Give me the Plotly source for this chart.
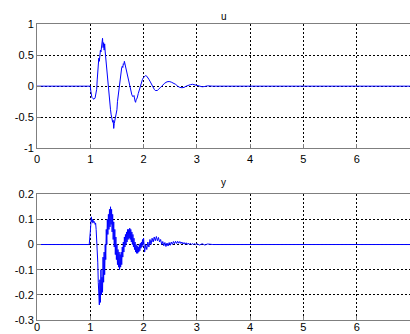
import plotly.graph_objects as go

# ---- data ----
t_u = [0.0, 0.99, 1.00, 1.01, 1.02, 1.03, 1.05, 1.07, 1.09, 1.10, 1.12, 1.13, 1.14, 1.15, 1.16, 1.17,
       1.18, 1.19, 1.20, 1.21, 1.22, 1.23, 1.24, 1.25, 1.26, 1.27, 1.28, 1.29, 1.30, 1.31, 1.32, 1.33,
       1.34, 1.35, 1.36, 1.37, 1.38, 1.39, 1.40, 1.41, 1.42, 1.43, 1.44, 1.45, 1.46, 1.47, 1.48, 1.49,
       1.50, 1.51, 1.52, 1.53, 1.54, 1.55, 1.56, 1.57, 1.58, 1.59, 1.60, 1.61, 1.62, 1.63, 1.64, 1.65,
       1.66, 1.67, 1.68, 1.70, 1.72, 1.74, 1.76, 1.78, 1.80, 1.82, 1.84, 1.85, 1.86, 1.88, 1.90, 1.92,
       1.94, 1.96, 1.98, 2.00, 2.02, 2.04, 2.06, 2.08, 2.10, 2.12, 2.14, 2.16, 2.18, 2.20, 2.22, 2.24,
       2.26, 2.28, 2.30, 2.32, 2.34, 2.36, 2.40, 2.44, 2.48, 2.52, 2.56, 2.60, 2.64, 2.68, 2.72, 2.76,
       2.80, 2.84, 2.88, 2.92, 2.96, 3.00, 3.05, 3.10, 3.15, 3.20, 3.30, 7.0]
u_vals = [0.0, 0.0, 0.0, -0.08, -0.15, -0.18, -0.20, -0.21, -0.19, -0.15, -0.05, 0.10, 0.25, 0.33, 0.45, 0.40,
          0.52, 0.58, 0.55, 0.68, 0.72, 0.77, 0.62, 0.70, 0.58, 0.68, 0.55, 0.45, 0.42, 0.30, 0.22, 0.05,
          -0.10, -0.18, -0.25, -0.33, -0.38, -0.45, -0.52, -0.50, -0.58, -0.55, -0.68, -0.60, -0.56, -0.50, -0.48, -0.40,
          -0.38, -0.25, -0.18, -0.10, 0.0, 0.08, 0.15, 0.20, 0.28, 0.30, 0.32, 0.30, 0.36, 0.35, 0.40, 0.36,
          0.34, 0.30, 0.25, 0.15, 0.08, -0.02, -0.08, -0.14, -0.17, -0.15, -0.24, -0.26, -0.22, -0.19, -0.12, -0.05,
          0.02, 0.08, 0.11, 0.14, 0.16, 0.17, 0.16, 0.14, 0.11, 0.08, 0.04, 0.01, -0.03, -0.05, -0.07, -0.07,
          -0.07, -0.05, -0.04, -0.02, 0.0, 0.02, 0.05, 0.07, 0.075, 0.065, 0.05, 0.03, 0.0, -0.02, -0.025, -0.02,
          0.0, 0.015, 0.025, 0.03, 0.02, 0.01, 0.0, -0.01, -0.005, 0.005, 0.0, 0.0]

t_y = [0.0, 0.98, 1.00, 1.01, 1.02, 1.03, 1.04, 1.05, 1.06, 1.07, 1.08, 1.09, 1.10, 1.11, 1.12, 1.13,
       1.14, 1.15, 1.16, 1.17, 1.18, 1.19, 1.20, 1.21, 1.22, 1.23, 1.24, 1.25, 1.26, 1.27, 1.28, 1.29,
       1.30, 1.31, 1.32, 1.33, 1.34, 1.35, 1.36, 1.37, 1.38, 1.39, 1.40, 1.41, 1.42, 1.43, 1.44, 1.45,
       1.46, 1.47, 1.48, 1.49, 1.50, 1.51, 1.52, 1.53, 1.54, 1.55, 1.56, 1.57, 1.58, 1.59, 1.60, 1.61,
       1.62, 1.63, 1.64, 1.65, 1.66, 1.67, 1.68, 1.69, 1.70, 1.71, 1.72, 1.73, 1.74, 1.75, 1.76, 1.77,
       1.78, 1.79, 1.80, 1.81, 1.82, 1.83, 1.84, 1.85, 1.86, 1.87, 1.88, 1.89, 1.90, 1.91, 1.92, 1.93,
       1.94, 1.95, 1.96, 1.97, 1.98, 1.99, 2.00, 2.02, 2.04, 2.06, 2.08, 2.10, 2.12, 2.14, 2.16, 2.18,
       2.20, 2.22, 2.24, 2.26, 2.28, 2.30, 2.32, 2.34, 2.36, 2.38, 2.40, 2.42, 2.44, 2.46, 2.48, 2.50,
       2.52, 2.54, 2.56, 2.58, 2.60, 2.62, 2.64, 2.66, 2.68, 2.70, 2.72, 2.74, 2.76, 2.78, 2.80, 2.82,
       2.84, 2.86, 2.88, 2.90, 2.92, 2.94, 2.96, 2.98, 3.00, 3.05, 3.10, 3.15, 3.20, 3.30, 7.0]
y_vals = [0.0, 0.0, 0.05, 0.10, 0.11, 0.09, 0.10, 0.085, 0.095, 0.09, 0.09, 0.08, 0.085, 0.06, 0.03, -0.02,
          -0.07, -0.15, -0.21, -0.24, -0.14, -0.23, -0.10, -0.20, -0.13, -0.19, -0.05, -0.15, -0.03, -0.12, 0.00, -0.06,
          0.06, 0.00, 0.10, 0.04, 0.12, 0.06, 0.14, 0.07, 0.15, 0.08, 0.14, 0.05, 0.12, 0.02, 0.09, -0.01,
          0.06, -0.04, 0.03, -0.06, 0.00, -0.08, -0.02, -0.09, -0.03, -0.10, -0.04, -0.09, -0.03, -0.08, -0.01, -0.05,
          0.01, -0.03, 0.03, -0.01, 0.04, 0.00, 0.05, 0.01, 0.06, 0.02, 0.06, 0.025, 0.065, 0.02, 0.06, 0.01,
          0.05, 0.00, 0.04, -0.01, 0.025, -0.02, 0.01, -0.03, 0.0, -0.035, -0.005, -0.035, -0.01, -0.03, 0.0, -0.025,
          0.005, -0.015, 0.01, -0.01, 0.02, 0.0, 0.025, -0.03, 0.0, -0.02, 0.01, -0.01, 0.02, 0.0, 0.025, 0.01,
          0.03, 0.015, 0.032, 0.015, 0.028, 0.01, 0.02, 0.0, 0.012, -0.005, 0.008, -0.008, 0.006, -0.006, 0.008, -0.003,
          0.01, 0.0, 0.012, 0.003, 0.013, 0.004, 0.013, 0.005, 0.012, 0.004, 0.01, 0.002, 0.008, 0.001, 0.007, 0.0,
          0.006, 0.0, 0.005, -0.001, 0.004, -0.001, 0.004, -0.001, 0.003, -0.002, 0.003, -0.002, 0.002, 0.0, 0.0]

x_ticks = [0, 1, 2, 3, 4, 5, 6, 7]
u_ticks = [-1, -0.5, 0, 0.5, 1]
u_tick_text = ["-1", "-0.5", "0", "0.5", "1"]
y_ticks = [-0.3, -0.2, -0.1, 0, 0.1, 0.2]
y_tick_text = ["-0.3", "-0.2", "-0.1", "0", "0.1", "0.2"]

FONT = "Liberation Sans, Arial, sans-serif"

fig = go.Figure()
fig.add_trace(go.Scatter(x=t_u, y=u_vals, mode="lines", line=dict(color="#0000ff", width=1),
                         xaxis="x", yaxis="y", showlegend=False))
fig.add_trace(go.Scatter(x=t_y, y=y_vals, mode="lines", line=dict(color="#0000ff", width=1),
                         xaxis="x2", yaxis="y2", showlegend=False))

axis_common = dict(showgrid=True, gridcolor="#000000", griddash="2px,2px", gridwidth=1,
                   zeroline=False, showline=True, linecolor="#7f7f7f", linewidth=1, mirror=True,
                   ticks="inside", ticklen=4, tickcolor="#7f7f7f", automargin=False,
                   tickfont=dict(family=FONT, size=11, color="#000000"))

fig.update_layout(
    width=410, height=334,
    margin=dict(l=37, r=0, t=24, b=14),
    plot_bgcolor="white", paper_bgcolor="white",
    xaxis=dict(domain=[0, 1], anchor="y", range=[0, 7], tickvals=x_ticks, **axis_common),
    yaxis=dict(domain=[0.58, 1], anchor="x", range=[-1, 1], tickvals=u_ticks, ticktext=u_tick_text, **axis_common),
    xaxis2=dict(domain=[0, 1], anchor="y2", range=[0, 7], tickvals=x_ticks, ticklabelstandoff=-3, **axis_common),
    yaxis2=dict(domain=[0, 0.425], anchor="x2", range=[-0.3, 0.2], tickvals=y_ticks, ticktext=y_tick_text, **axis_common),
    annotations=[
        dict(text="u", x=0.5, y=1.05, xref="paper", yref="paper", showarrow=False,
             font=dict(family=FONT, size=10, color="#000000")),
        dict(text="y", x=0.5, y=0.465, xref="paper", yref="paper", showarrow=False,
             font=dict(family=FONT, size=10, color="#000000")),
    ],
)

fig.write_html("out.html", config={"displayModeBar": False},
               post_script="document.body.style.margin='0';document.body.style.overflow='hidden';")
